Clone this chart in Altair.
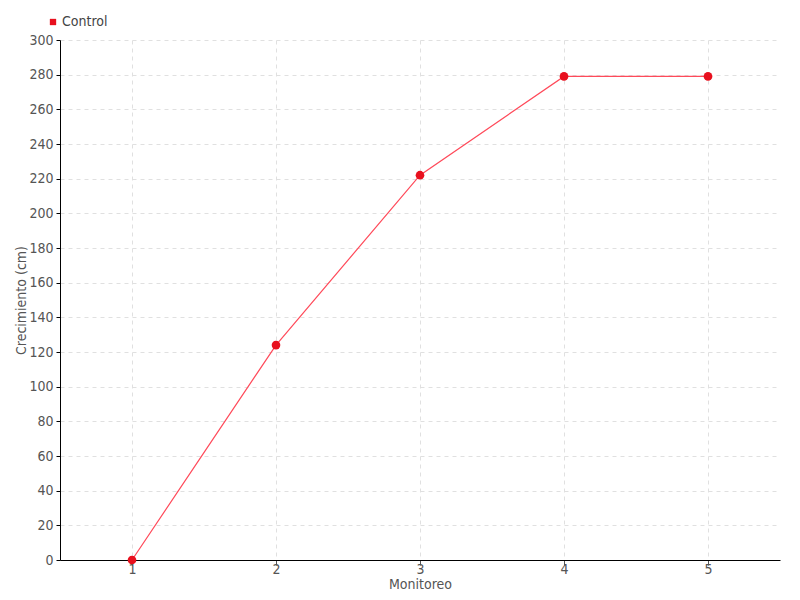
import altair as alt
import pandas as pd

monitoreo = ["1", "2", "3", "4", "5"]
crecimiento = [0, 124, 222, 279, 279]
serie = ["Control"] * 5

df = pd.DataFrame({"Monitoreo": monitoreo, "Crecimiento": crecimiento, "Serie": serie})

FONT = "Liberation Sans Narrow, DejaVu Sans Condensed, sans-serif"

x = alt.X("Monitoreo:O", title="Monitoreo",
          scale=alt.Scale(type="point", padding=0.5),
          axis=alt.Axis(labelAngle=0, grid=True, gridDash=[4, 4], gridColor="#e0e0e0",
                        domainColor="#000", tickColor="#555", tickSize=5,
                        labelPadding=-3, titleY=17, titleBaseline="top"))
y = alt.Y("Crecimiento:Q", title="Crecimiento (cm)",
          scale=alt.Scale(domain=[0, 300], nice=False),
          axis=alt.Axis(values=list(range(0, 301, 20)), grid=True, gridDash=[4, 4],
                        gridColor="#e0e0e0", domainColor="#000", tickColor="#000",
                        tickSize=4, labelPadding=3, titleX=-32, titleY=260,
                        titleBaseline="bottom"))

line = alt.Chart(df).mark_line(color="#ff4a5a", strokeWidth=1.2).encode(x=x, y=y)
pts = alt.Chart(df).mark_circle(size=75, opacity=1).encode(
    x=x, y=y,
    color=alt.Color("Serie:N", scale=alt.Scale(range=["#e8101e"]),
                    legend=alt.Legend(title=None, orient="none", legendX=-14, legendY=-25,
                                      symbolType="square", symbolSize=40,
                                      labelFontSize=14, labelColor="#444",
                                      labelFont=FONT, symbolOffset=0, labelOffset=2)))

chart = (line + pts).properties(
    width=720, height=520,
    autosize=alt.AutoSizeParams(type="none"),
    padding={"left": 52, "top": 32, "right": 12, "bottom": 40},
).configure_view(stroke=None).configure_axis(
    labelFont=FONT, titleFont=FONT, labelFontSize=14, titleFontSize=14,
    labelColor="#555", titleColor="#555", titleFontWeight="normal",
)

chart.save("out.html", embed_options={"renderer": "svg", "actions": False})
